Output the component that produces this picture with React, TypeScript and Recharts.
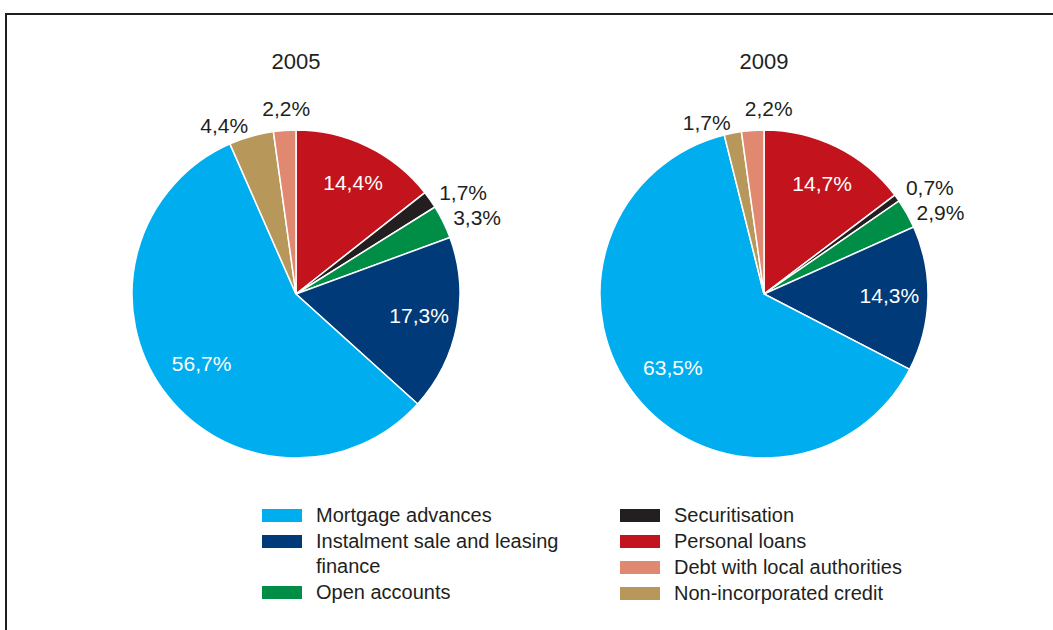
import React from 'react';
import { PieChart, Pie, Cell } from 'recharts';

const categories = [
  'Personal loans',
  'Securitisation',
  'Open accounts',
  'Instalment sale and leasing finance',
  'Mortgage advances',
  'Non-incorporated credit',
  'Debt with local authorities',
];
const colors = ['#c3131c', '#231f20', '#008d45', '#003a78', '#00aeef', '#b8985a', '#e08870'];
const values2005 = [14.4, 1.7, 3.3, 17.3, 56.7, 4.4, 2.2];
const values2009 = [14.7, 0.7, 2.9, 14.3, 63.5, 1.7, 2.2];
const years = ['2005', '2009'];

// legend order: two columns
const legendLeft = [4, 3, 2];
const legendRight = [1, 0, 6, 5];

const FONT = '"Liberation Sans", Arial, Helvetica, sans-serif';
const RAD = Math.PI / 180;
const OUTER = 164;
const LABEL_W = 48;

type Lbl = { dx: number; dy: number; anchor: 'start' | 'middle' | 'end'; inner: boolean };

// place labels around the pie: big slices inside, small ones outside, spread apart when they crowd
function layoutLabels(values: number[]): Lbl[] {
  const total = values.reduce((a, b) => a + b, 0);
  let acc = 0;
  const out: Lbl[] = values.map((v) => {
    const mid = ((acc + v / 2) / total) * 360; // clockwise from 12 o'clock
    acc += v;
    const inner = v > 10;
    const s = Math.sin(mid * RAD);
    const c = Math.cos(mid * RAD);
    if (inner) {
      const r = OUTER * 0.74;
      return { dx: r * s + 4, dy: -r * c - 2, anchor: 'middle', inner };
    }
    const top = mid < 8 || mid > 352;
    const r = top ? OUTER + 22 : OUTER + 11;
    return { dx: r * s, dy: -r * c, anchor: top ? 'middle' : s > 0 ? 'start' : 'end', inner };
  });
  // vertical spacing between neighbouring labels on the right side
  for (let i = 1; i < out.length; i++) {
    const a = out[i - 1];
    const b = out[i];
    if (!a.inner && !b.inner && a.anchor === 'start' && b.anchor === 'start') {
      const gap = b.dy - a.dy;
      if (gap < 25) {
        a.dy -= (25 - gap) / 2;
        b.dy += (25 - gap) / 2;
      }
    }
  }
  // horizontal spacing for the label at the top
  for (let i = 1; i < out.length; i++) {
    const a = out[i - 1];
    const b = out[i];
    if (!a.inner && a.anchor === 'end' && b.anchor === 'middle' && !b.inner) {
      const left = b.dx - LABEL_W / 2;
      if (left < a.dx + 14) b.dx = a.dx + 14 + LABEL_W / 2;
    }
  }
  return out;
}

const makeLabel = (layout: Lbl[]) => (props: any) => {
  const { cx, cy, index, value } = props;
  const l = layout[index];
  return (
    <text
      x={cx + l.dx}
      y={cy + l.dy}
      fill={l.inner ? '#ffffff' : '#231f20'}
      textAnchor={l.anchor}
      dominantBaseline="central"
      fontFamily={FONT}
      fontSize={21}
    >
      {value.toFixed(1).replace('.', ',') + '%'}
    </text>
  );
};

const Swatch = ({ color }: { color: string }) => (
  <span
    style={{
      display: 'inline-block',
      width: 40,
      height: 13,
      background: color,
      marginRight: 14,
      marginTop: 6,
      flexShrink: 0,
    }}
  />
);

const LegendCol = ({ idx, left, width }: { idx: number[]; left: number; width: number }) => (
  <div style={{ position: 'absolute', left, top: 503, width }}>
    {idx.map((i) => (
      <div key={i} style={{ display: 'flex', alignItems: 'flex-start', lineHeight: '25px', marginBottom: 1 }}>
        <Swatch color={colors[i]} />
        <span>{categories[i]}</span>
      </div>
    ))}
  </div>
);

export default function App() {
  const data05 = categories.map((name, i) => ({ name, value: values2005[i] }));
  const data09 = categories.map((name, i) => ({ name, value: values2009[i] }));
  const label05 = makeLabel(layoutLabels(values2005));
  const label09 = makeLabel(layoutLabels(values2009));

  return (
    <div
      style={{
        position: 'absolute',
        left: 0,
        top: 0,
        width: 1053,
        height: 630,
        overflow: 'hidden',
        background: '#ffffff',
        fontFamily: FONT,
        color: '#231f20',
        fontSize: 20,
      }}
    >
      <div style={{ position: 'absolute', left: 5, top: 13, width: 1100, height: 2, background: '#231f20' }} />
      <div style={{ position: 'absolute', left: 5, top: 13, width: 2, height: 700, background: '#231f20' }} />
      {years.map((y, i) => (
        <div
          key={y}
          style={{
            position: 'absolute',
            top: 49,
            left: (i === 0 ? 296 : 764) - 50,
            width: 100,
            textAlign: 'center',
            fontSize: 22,
            lineHeight: '26px',
          }}
        >
          {y}
        </div>
      ))}
      <div style={{ position: 'absolute', left: 0, top: 0 }}>
        <PieChart width={1053} height={500} margin={{ top: 0, right: 0, bottom: 0, left: 0 }}>
          <Pie
            data={data05}
            dataKey="value"
            nameKey="name"
            cx={296}
            cy={294}
            outerRadius={OUTER}
            startAngle={90}
            endAngle={-270}
            stroke="#ffffff"
            strokeWidth={1.5}
            label={label05}
            labelLine={false}
            isAnimationActive={false}
          >
            {data05.map((d, i) => (
              <Cell key={d.name} fill={colors[i]} />
            ))}
          </Pie>
          <Pie
            data={data09}
            dataKey="value"
            nameKey="name"
            cx={764}
            cy={294}
            outerRadius={OUTER}
            startAngle={90}
            endAngle={-270}
            stroke="#ffffff"
            strokeWidth={1.5}
            label={label09}
            labelLine={false}
            isAnimationActive={false}
          >
            {data09.map((d, i) => (
              <Cell key={d.name} fill={colors[i]} />
            ))}
          </Pie>
        </PieChart>
      </div>
      <LegendCol idx={legendLeft} left={262} width={320} />
      <LegendCol idx={legendRight} left={620} width={320} />
    </div>
  );
}
